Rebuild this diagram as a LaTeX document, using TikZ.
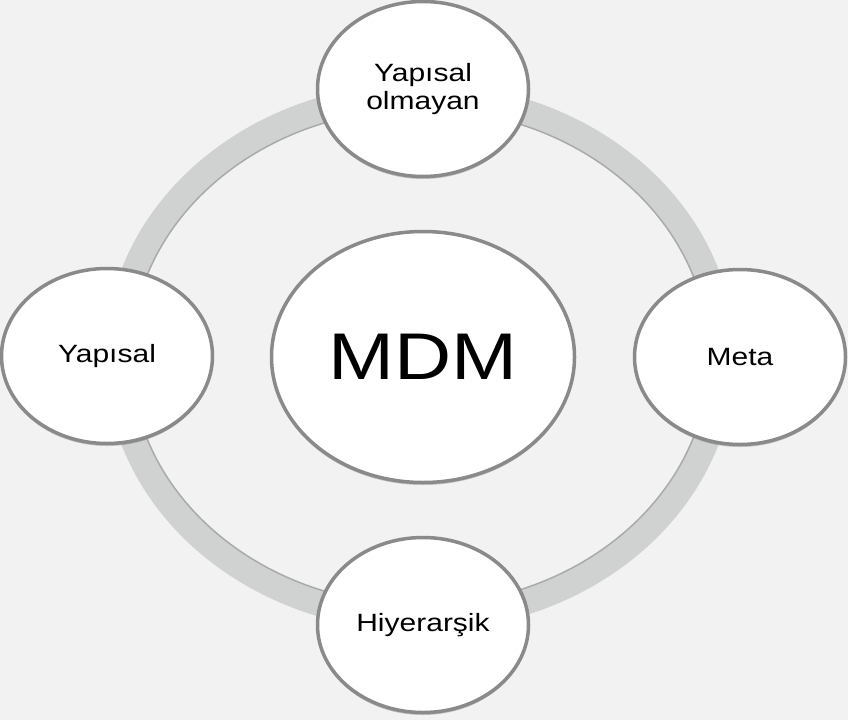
\documentclass[tikz,border=0pt]{standalone}
\usepackage{tikz}
\usepackage{xcolor}
\usepackage{fontspec}
\setmainfont{Liberation Sans}[FakeStretch=1.2]
\usetikzlibrary{shadows,shapes.geometric}

\definecolor{bggray}{HTML}{F2F2F2}
\definecolor{ringgray}{HTML}{D0D1D1}
\definecolor{ringedge}{HTML}{A9AAAA}
\definecolor{bordergray}{HTML}{8A8A8A}

\begin{document}
\begin{tikzpicture}[x=1pt, y=-1pt,
  bubble/.style={ellipse, draw=bordergray, line width=3.5pt, fill=white,
    minimum width=211pt, minimum height=175pt, inner sep=0pt, align=center,
    font=\fontsize{25}{28}\selectfont,
    drop shadow={shadow xshift=0pt, shadow yshift=-2.5pt, opacity=0.35, fill=black!60}},
  hub/.style={bubble, minimum width=303pt, minimum height=251pt,
    font=\fontsize{66}{70}\selectfont}]
  % Background and frame
  \useasboundingbox (0,0) rectangle (848,720);
  \fill[bggray] (0,0) rectangle (848,720);

  % Draw the grey ring
  \draw[ringgray, line width=26pt] (420,357) ellipse [x radius=302, y radius=261];
  \draw[ringedge, line width=1.5pt] (420,357) ellipse [x radius=289, y radius=248];

  % Centre and the four bubbles on the ring
  \node[hub] (mdm) at (423,357) {MDM};
  \node[bubble] (yolm) at (423,89) {Yapısal\\olmayan};
  \node[bubble] (yap) at (107,356) {Yapısal};
  \node[bubble] (meta) at (740,357) {Meta};
  \node[bubble] (hiy) at (423,625) {Hiyerarşik};
\end{tikzpicture}
\end{document}
